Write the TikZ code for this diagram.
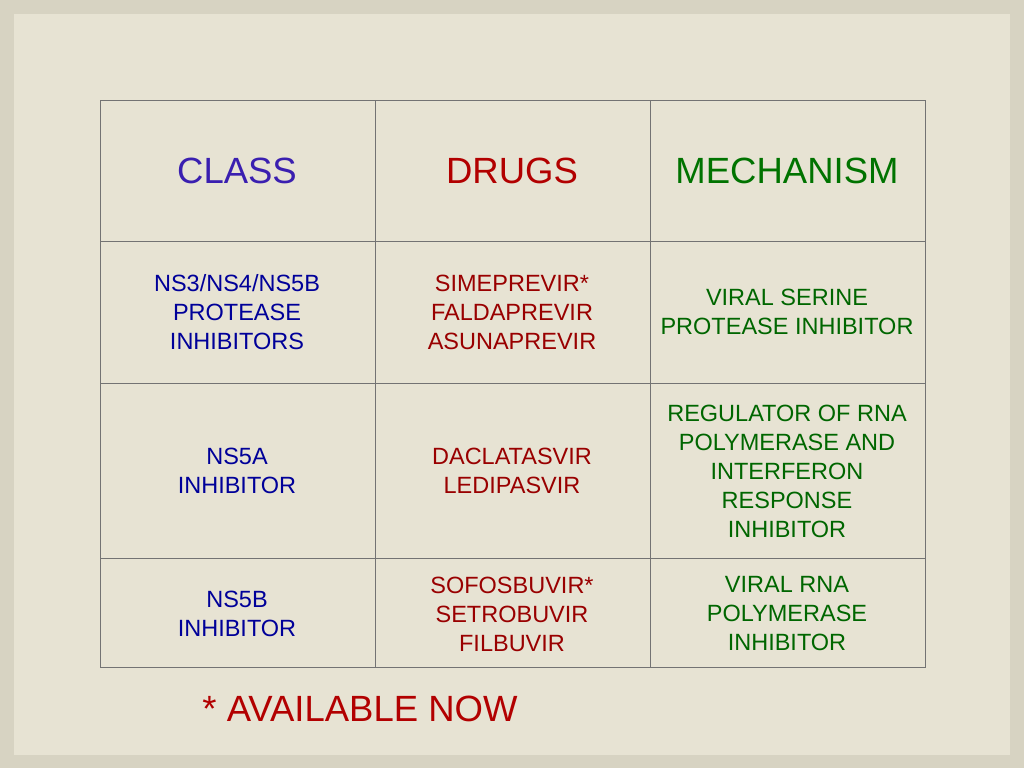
\documentclass[tikz,border=0pt]{standalone}
\usepackage{fontspec}
\setmainfont{Liberation Sans}
\begin{document}
\begin{tikzpicture}[x=1pt,y=-1pt,
  grid/.style={draw=black!55,line width=0.6pt},
  hdr/.style={font=\fontsize{36.5}{40}\selectfont},
  body/.style={font=\fontsize{23.5}{29}\selectfont,align=center},
  cls/.style={text=blue!60!black},
  drg/.style={text=red!60!black},
  mec/.style={text=green!40!black}]
\definecolor{outerbg}{HTML}{D7D3C2}
\definecolor{innerbg}{HTML}{E7E3D3}
\definecolor{hblue}{HTML}{3A1FB0}
\fill[outerbg] (0,0) rectangle (1024,768);
\fill[innerbg] (14,14) rectangle (1010,755);
\useasboundingbox (0,0) rectangle (1024,768);
\draw[grid] (100,100) rectangle (925,667);
\foreach \x in {375,650} \draw[grid] (\x,100) -- (\x,667);
\foreach \y in {241,383,558} \draw[grid] (100,\y) -- (925,\y);
\node[hdr,text=hblue] (h1) at (237,171) {CLASS};
\node[hdr,text=red!70!black] (h2) at (512,171) {DRUGS};
\node[hdr,text=green!45!black] (h3) at (787,171) {MECHANISM};
\node[body,cls] (c1) at (237,312) {NS3/NS4/NS5B\\PROTEASE\\INHIBITORS};
\node[body,drg] (d1) at (512,312) {SIMEPREVIR*\\FALDAPREVIR\\ASUNAPREVIR};
\node[body,mec] (m1) at (787,312) {VIRAL SERINE\\PROTEASE INHIBITOR};
\node[body,cls] (c2) at (237,471) {NS5A\\INHIBITOR};
\node[body,drg] (d2) at (512,471) {DACLATASVIR\\LEDIPASVIR};
\node[body,mec] (m2) at (787,471) {REGULATOR OF RNA\\POLYMERASE AND\\INTERFERON\\RESPONSE\\INHIBITOR};
\node[body,cls] (c3) at (237,614) {NS5B\\INHIBITOR};
\node[body,drg] (d3) at (512,614) {SOFOSBUVIR*\\SETROBUVIR\\FILBUVIR};
\node[body,mec] (m3) at (787,614) {VIRAL RNA\\POLYMERASE\\INHIBITOR};
\node[font=\fontsize{36.5}{40}\selectfont,text=red!70!black] (f) at (360,709) {* AVAILABLE NOW};
\end{tikzpicture}
\end{document}
